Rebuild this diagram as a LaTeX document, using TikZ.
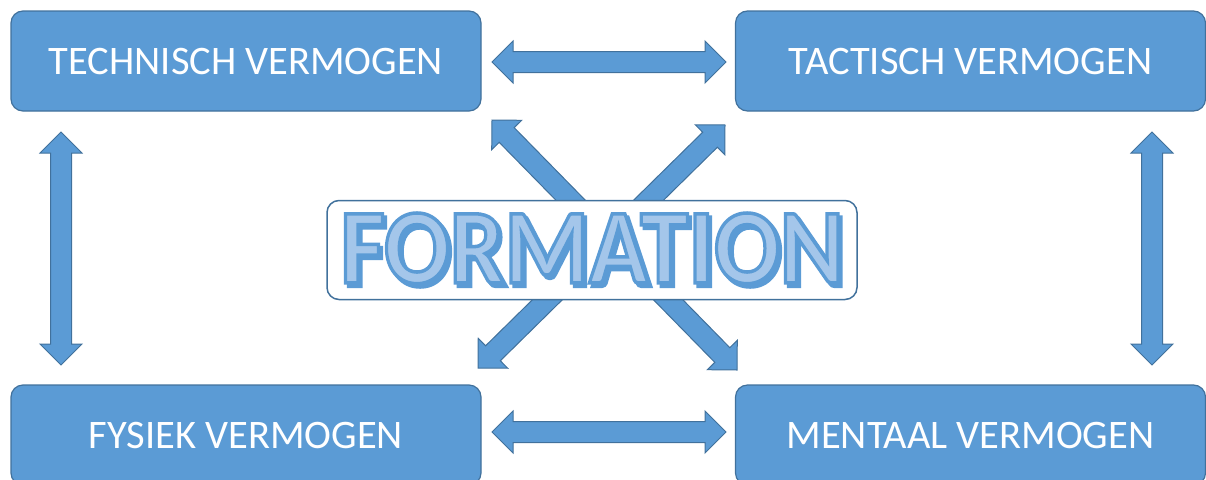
\documentclass[tikz,border=0pt]{standalone}
\usepackage{fontspec}
\setmainfont{Carlito}
\usetikzlibrary{calc}
\definecolor{boxblue}{HTML}{5B9BD5}
\definecolor{boxline}{HTML}{41719C}
\definecolor{letterfill}{HTML}{A4C6EA}
\tikzset{
  vermogen/.style={draw=boxline, line width=1.2pt, fill=boxblue, rounded corners=12pt,
    minimum width=470pt, minimum height=100pt, text=white, font=\fontsize{40.5}{45}\selectfont},
  centerbox/.style={draw=boxline, line width=1.5pt, fill=white, rounded corners=12pt,
    minimum width=530pt, minimum height=99pt, inner sep=0pt},
  bigarrow/.style={draw=boxline, line width=1pt, fill=boxblue, line join=miter}
}
\newcommand\headlen{21pt}
\newcommand\headhalf{21pt}
\newcommand\shafthalf{10.5pt}
% double arrow between two named coordinates
\newcommand\dblarrow[2]{%
  \draw[bigarrow] (#1)
    -- ($(#1)!\headlen!(#2)!\headhalf!90:(#2)$)
    -- ($(#1)!\headlen!(#2)!\shafthalf!90:(#2)$)
    -- ($(#2)!\headlen!(#1)!\shafthalf!-90:(#1)$)
    -- ($(#2)!\headlen!(#1)!\headhalf!-90:(#1)$)
    -- (#2)
    -- ($(#2)!\headlen!(#1)!\headhalf!90:(#1)$)
    -- ($(#2)!\headlen!(#1)!\shafthalf!90:(#1)$)
    -- ($(#1)!\headlen!(#2)!\shafthalf!-90:(#2)$)
    -- ($(#1)!\headlen!(#2)!\headhalf!-90:(#2)$)
    -- cycle;}
% outlined letters (fill + stroke), with a shadow copy behind
\newcommand\outlined[1]{%
  \special{pdf:literal direct 2 Tr 3.2 w 0.357 0.608 0.835 RG}#1%
  \special{pdf:literal direct 0 Tr}}
\newcommand\formword[1]{%
  \makebox[0pt][l]{\hspace{3pt}\raisebox{-3pt}{\color{boxblue}\outlined{#1}}}%
  {\color{letterfill}\outlined{#1}}}

\begin{document}
\begin{tikzpicture}[x=1pt, y=-1pt]
\useasboundingbox (0,0) rectangle (1206,479);
\clip (0,0) rectangle (1206,479);

\node[vermogen] (tech) at (246,61) {TECHNISCH VERMOGEN};
\node[vermogen] (tact) at (970.5,61) {TACTISCH VERMOGEN};
\node[vermogen] (fys) at (246,435) {FYSIEK VERMOGEN};
\node[vermogen] (ment) at (970.5,435) {MENTAAL VERMOGEN};

% arrow ends
\coordinate (th1) at (492,62);   \coordinate (th2) at (726,62);
\coordinate (bh1) at (492,432);  \coordinate (bh2) at (726,432);
\coordinate (lv1) at (61,132);   \coordinate (lv2) at (61,365);
\coordinate (rv1) at (1152,132); \coordinate (rv2) at (1152,365);
\coordinate (da1) at (492,120);  \coordinate (da2) at (737,370);
\coordinate (db1) at (725,125);  \coordinate (db2) at (478,368);

\dblarrow{th1}{th2}
\dblarrow{bh1}{bh2}
\dblarrow{lv1}{lv2}
\dblarrow{rv1}{rv2}
\dblarrow{da1}{da2}
\dblarrow{db1}{db2}

\node[centerbox] (form) at (592,250)
  {\fontsize{97}{100}\bfseries\scalebox{1}[1.1]{\formword{FORMATION}}};
\end{tikzpicture}
\end{document}
